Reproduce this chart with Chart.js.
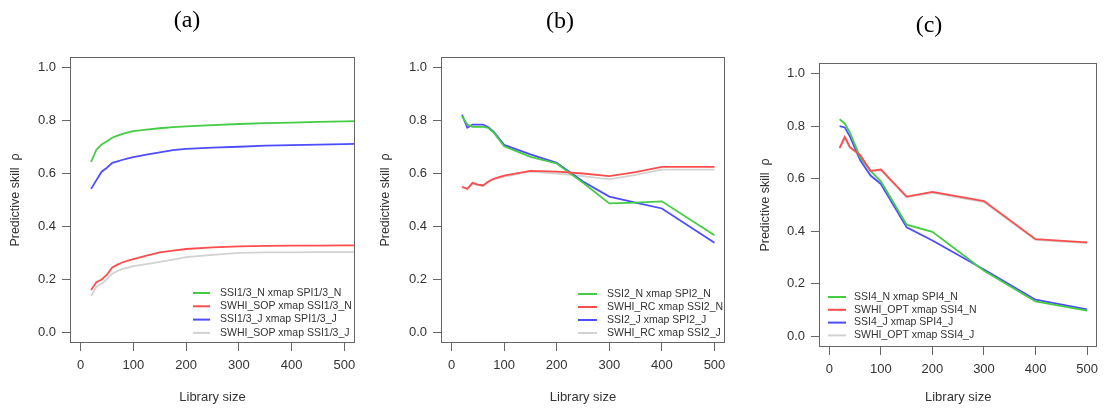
<!DOCTYPE html>
<html>
<head>
<meta charset="utf-8">
<script src="https://cdn.jsdelivr.net/npm/chart.js@4.4.0/dist/chart.umd.min.js"></script>
<style>
body { margin: 0; background: #fff; width: 1105px; height: 412px; position: relative; overflow: hidden; }
.panel { position: absolute; top: 0; height: 412px; }
</style>
</head>
<body>
<div class="panel" style="left:0;width:370px"><canvas id="chartA"></canvas></div>
<div class="panel" style="left:370px;width:370px"><canvas id="chartB"></canvas></div>
<div class="panel" style="left:740px;width:365px"><canvas id="chartC"></canvas></div>
<script>
// ticks
const xTicks = [0, 100, 200, 300, 400, 500];
const yTicks = [0, 0.2, 0.4, 0.6, 0.8, 1.0];

// panel (a)
const labelsA = ["SSI1/3_N xmap SPI1/3_N", "SWHI_SOP xmap SSI1/3_N", "SSI1/3_J xmap SPI1/3_J", "SWHI_SOP xmap SSI1/3_J"];
const xA = [20, 30, 40, 50, 60, 70, 80, 90, 100, 125, 150, 175, 200, 250, 300, 350, 400, 450, 500, 520];
const greenA = [0.644, 0.69, 0.71, 0.722, 0.735, 0.743, 0.75, 0.755, 0.76, 0.766, 0.771, 0.775, 0.778, 0.783, 0.787, 0.79, 0.792, 0.795, 0.797, 0.798];
const redA = [0.16, 0.19, 0.2, 0.218, 0.245, 0.256, 0.265, 0.271, 0.277, 0.29, 0.302, 0.309, 0.315, 0.321, 0.325, 0.327, 0.328, 0.328, 0.329, 0.329];
const blueA = [0.542, 0.575, 0.607, 0.622, 0.64, 0.646, 0.652, 0.657, 0.662, 0.671, 0.68, 0.688, 0.693, 0.698, 0.701, 0.705, 0.707, 0.709, 0.711, 0.712];
const grayA = [0.138, 0.172, 0.185, 0.2, 0.222, 0.232, 0.24, 0.245, 0.25, 0.258, 0.266, 0.275, 0.284, 0.293, 0.3, 0.302, 0.302, 0.303, 0.303, 0.303];

// panel (b)
const labelsB = ["SSI2_N xmap SPI2_N", "SWHI_RC xmap SSI2_N", "SSI2_J xmap SPI2_J", "SWHI_RC xmap SSI2_J"];
const xB = [20, 30, 40, 50, 60, 70, 80, 100, 150, 200, 250, 300, 350, 400, 500];
const greenB = [0.816, 0.785, 0.776, 0.776, 0.776, 0.772, 0.755, 0.703, 0.663, 0.638, 0.565, 0.487, 0.49, 0.495, 0.367];
const redB = [0.55, 0.542, 0.565, 0.558, 0.555, 0.57, 0.58, 0.592, 0.61, 0.607, 0.6, 0.59, 0.605, 0.625, 0.625];
const blueB = [0.822, 0.773, 0.785, 0.785, 0.785, 0.775, 0.758, 0.708, 0.672, 0.64, 0.57, 0.513, 0.49, 0.468, 0.339];
const grayB = [0.548, 0.543, 0.562, 0.556, 0.553, 0.568, 0.578, 0.588, 0.607, 0.6, 0.59, 0.578, 0.595, 0.615, 0.615];

// panel (c)
const labelsC = ["SSI4_N xmap SPI4_N", "SWHI_OPT xmap SSI4_N", "SSI4_J xmap SPI4_J", "SWHI_OPT xmap SSI4_J"];
const xC = [20, 30, 40, 60, 80, 100, 150, 200, 300, 400, 500];
const greenC = [0.826, 0.81, 0.775, 0.68, 0.63, 0.59, 0.425, 0.398, 0.25, 0.133, 0.098];
const redC = [0.717, 0.759, 0.72, 0.69, 0.63, 0.635, 0.532, 0.55, 0.515, 0.37, 0.358];
const blueC = [0.8, 0.795, 0.76, 0.67, 0.612, 0.58, 0.415, 0.365, 0.255, 0.14, 0.103];
const grayC = [0.715, 0.752, 0.717, 0.688, 0.628, 0.632, 0.529, 0.546, 0.511, 0.367, 0.355];

const colors = ["#44cc44", "#ff4d4d", "#4d4dff", "#d2d2d2"];
const drawOrder = [2, 1, 3, 4]; // red on top, gray underneath

Chart.defaults.font.family = "'Liberation Sans', Arial, sans-serif";
Chart.defaults.color = "#333";

// box round the plot area, like R's box(), plus the panel letter
const boxPlugin = {
	id: "box",
	afterDraw(chart, args, opts) {
		const { ctx, chartArea: a } = chart;
		ctx.save();
		ctx.strokeStyle = "#666";
		ctx.lineWidth = 1;
		ctx.strokeRect(Math.round(a.left) + 0.5, Math.round(a.top) + 0.5, Math.round(a.width) - 1, Math.round(a.height) - 1);
		ctx.fillStyle = "#000";
		ctx.font = "24px 'Liberation Serif', 'Times New Roman', serif";
		ctx.textAlign = "center";
		ctx.textBaseline = "middle";
		ctx.fillText(opts.text, opts.x, opts.y);
		ctx.restore();
	},
};

// legend without frame, drawn inside the plot
const rLegend = {
	id: "rLegend",
	afterDraw(chart, args, opts) {
		const ctx = chart.ctx;
		ctx.save();
		ctx.font = "10.5px 'Liberation Sans', Arial, sans-serif";
		ctx.textBaseline = "middle";
		chart.data.datasets.forEach((ds, i) => {
			const y = opts.y + i * opts.step;
			ctx.strokeStyle = ds.borderColor;
			ctx.lineWidth = 2;
			ctx.beginPath();
			ctx.moveTo(opts.x1, y);
			ctx.lineTo(opts.x2, y);
			ctx.stroke();
			ctx.fillStyle = "#333";
			ctx.fillText(ds.label, opts.tx, y);
		});
		ctx.restore();
	},
};

function makeChart(id, title, labels, xs, series, cfg) {
	const datasets = series.map((ys, i) => ({
		label: labels[i],
		data: xs.map((x, j) => ({ x: x, y: ys[j] })),
		borderColor: colors[i],
		borderWidth: 1.8,
		pointRadius: 0,
		tension: 0,
		order: drawOrder[i],
	}));
	return new Chart(document.getElementById(id), {
		type: "line",
		data: { datasets: datasets },
		options: {
			responsive: true,
			maintainAspectRatio: false,
			animation: false,
			layout: { padding: { left: 0, right: cfg.padRight, top: cfg.padTop, bottom: 0 } },
			scales: {
				x: {
					type: "linear",
					min: -20,
					max: 520,
					afterBuildTicks: (s) => { s.ticks = xTicks.map((v) => ({ value: v })); },
					afterFit: (s) => { s.height = cfg.xHeight; },
					grid: { drawOnChartArea: false, tickLength: 8, color: "#666" },
					border: { display: false },
					ticks: { font: { size: 13 }, padding: 7, maxRotation: 0, callback: (v) => String(v) },
					title: { display: true, text: "Library size", font: { size: 13 }, padding: { top: 0, bottom: 7 } },
				},
				y: {
					min: -0.04,
					max: 1.04,
					afterBuildTicks: (s) => { s.ticks = yTicks.map((v) => ({ value: v })); },
					afterFit: (s) => { s.width = cfg.yWidth; },
					grid: { drawOnChartArea: false, tickLength: 8, color: "#666" },
					border: { display: false },
					ticks: { font: { size: 13 }, padding: 6, callback: (v) => v.toFixed(1) },
					title: { display: true, text: "Predictive skill  ρ", font: { size: 12.5 }, padding: { top: cfg.yTitlePad, bottom: 0 } },
				},
			},
			plugins: {
				legend: { display: false },
				tooltip: { enabled: false },
				box: cfg.title,
				rLegend: cfg.legend,
			},
		},
		plugins: [boxPlugin, rLegend],
	});
}

makeChart("chartA", "(a)", labelsA, xA, [greenA, redA, blueA, grayA], {
	padRight: 15, padTop: 57, xHeight: 69, yWidth: 70, yTitlePad: 8,
	title: { text: "(a)", x: 187, y: 21 },
	legend: { x1: 193, x2: 210, tx: 220, y: 293, step: 13.3 },
});

makeChart("chartB", "(b)", labelsB, xB, [greenB, redB, blueB, grayB], {
	padRight: 15, padTop: 57, xHeight: 69, yWidth: 71, yTitlePad: 8,
	title: { text: "(b)", x: 190, y: 22 },
	legend: { x1: 208, x2: 227, tx: 237, y: 294, step: 13 },
});

makeChart("chartC", "(c)", labelsC, xC, [greenC, redC, blueC, grayC], {
	padRight: 2, padTop: 63, xHeight: 65, yWidth: 79, yTitlePad: 18,
	title: { text: "(c)", x: 189, y: 26 },
	legend: { x1: 88, x2: 106, tx: 114, y: 297, step: 12.8 },
});
</script>
</body>
</html>
